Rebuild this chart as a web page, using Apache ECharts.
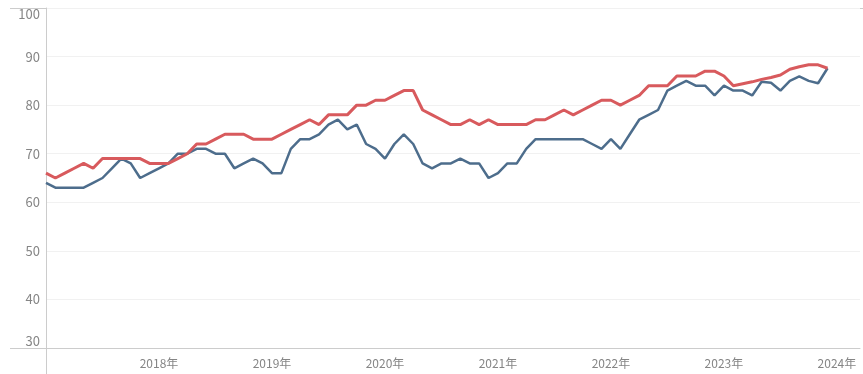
<!DOCTYPE html>
<html>
<head>
<meta charset="utf-8">
<script src="https://cdn.jsdelivr.net/npm/echarts@6/dist/echarts.min.js"></script>
<style>
  html, body { margin: 0; padding: 0; background: #fff; }
  #chart { width: 863px; height: 374px; }
</style>
</head>
<body>
<div id="chart"></div>
<script>
// monthly data, Jan 2017 .. Dec 2023 (index 0 = 2017-01)
const startYear = 2017;
const redValues = [
    66, 65, 66, 67, 68, 67, 69, 69, 69, 69, 69, 68,
    68, 68, 69, 70, 72, 72, 73, 74, 74, 74, 73, 73,
    73, 74, 75, 76, 77, 76, 78, 78, 78, 80, 80, 81,
    81, 82, 83, 83, 79, 78, 77, 76, 76, 77, 76, 77,
    76, 76, 76, 76, 77, 77, 78, 79, 78, 79, 80, 81,
    81, 80, 81, 82, 84, 84, 84, 86, 86, 86, 87, 87,
    86, 84, 84.4, 84.8, 85.3, 85.7, 86.2, 87.4, 87.9, 88.3, 88.3, 87.6
];
const blueValues = [
    64, 63, 63, 63, 63, 64, 65, 67, 69, 68, 65, 66,
    67, 68, 70, 70, 71, 71, 70, 70, 67, 68, 69, 68,
    66, 66, 71, 73, 73, 74, 76, 77, 75, 76, 72, 71,
    69, 72, 74, 72, 68, 67, 68, 68, 69, 68, 68, 65,
    66, 68, 68, 71, 73, 73, 73, 73, 73, 73, 72, 71,
    73, 71, 74, 77, 78, 79, 83, 84, 85, 84, 84, 82,
    84, 83, 83, 82, 84.8, 84.6, 83, 85, 85.9, 85, 84.5, 87.6
];
const yTicks = [30, 40, 50, 60, 70, 80, 90, 100];

const toPairs = arr => arr.map((v, i) => [i, v]);

const chart = echarts.init(document.getElementById('chart'));
const fontFamily = '"Noto Sans CJK SC", "Noto Sans", sans-serif';

chart.setOption({
    animation: false,
    grid: { left: 46, right: 0, top: 8, bottom: 26 },
    xAxis: {
        type: 'value',
        min: 0,
        max: 86.45,
        interval: 12,
        axisLine: { lineStyle: { color: '#cccccc', width: 1 } },
        axisTick: { show: false },
        splitLine: { show: false },
        axisLabel: {
            margin: 9,
            color: '#858585',
            fontSize: 12,
            fontFamily: fontFamily,
            formatter: v => (v > 0 && v % 12 === 0) ? (startYear + v / 12) + '年' : ''
        }
    },
    yAxis: {
        type: 'value',
        min: yTicks[0],
        max: yTicks[yTicks.length - 1],
        interval: 10,
        axisLine: { show: true, lineStyle: { color: '#cccccc', width: 1 } },
        axisTick: { show: false },
        splitLine: { lineStyle: { color: '#f1f1f1', width: 1 } },
        axisLabel: {
            margin: 6,
            color: '#858585',
            fontSize: 13,
            fontFamily: fontFamily,
            verticalAlignMaxLabel: 'top',
            verticalAlignMinLabel: 'bottom'
        }
    },
    series: [
        {
            type: 'line',
            data: toPairs(blueValues),
            symbol: 'none',
            lineStyle: { color: '#4d6d8c', width: 2.5 },
            z: 2
        },
        {
            type: 'line',
            data: toPairs(redValues),
            symbol: 'none',
            lineStyle: { color: '#d85a5d', width: 3 },
            z: 3
        }
    ],
    graphic: [
        // frame lines that run past the plot area
        { type: 'line', shape: { x1: 10, y1: 8.5, x2: 863, y2: 8.5 }, style: { stroke: '#cccccc', lineWidth: 1 }, silent: true },
        { type: 'line', shape: { x1: 10, y1: 348.5, x2: 46, y2: 348.5 }, style: { stroke: '#cccccc', lineWidth: 1 }, silent: true },
        { type: 'line', shape: { x1: 46.5, y1: 348, x2: 46.5, y2: 374 }, style: { stroke: '#cccccc', lineWidth: 1 }, silent: true }
    ]
});
</script>
</body>
</html>
